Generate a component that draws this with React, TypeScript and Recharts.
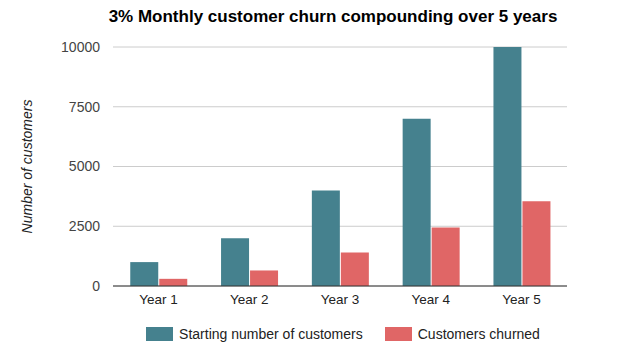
import { Bar, BarChart, CartesianGrid, Legend, XAxis, YAxis } from "recharts";

const YEARS = ["Year 1", "Year 2", "Year 3", "Year 4", "Year 5"];
const STARTING = [1000, 2000, 4000, 7000, 10000];
const CHURNED = [300, 650, 1400, 2450, 3550];
const Y_TICKS = [0, 2500, 5000, 7500, 10000];

const TEAL = "#45818e";
const RED = "#e06666";
const FONT = "'Liberation Sans', Arial, sans-serif";

const data = YEARS.map((year, i) => ({
  year,
  starting: STARTING[i],
  churned: CHURNED[i],
}));

function ChartLegend() {
  const items = [
    { label: "Starting number of customers", color: TEAL },
    { label: "Customers churned", color: RED },
  ];
  return (
    <div
      style={{
        display: "flex",
        justifyContent: "center",
        alignItems: "center",
        height: 24,
        width: 640,
        boxSizing: "border-box",
        gap: 22,
        paddingLeft: 46,
      }}
    >
      {items.map((it) => (
        <div key={it.label} style={{ display: "flex", alignItems: "center", gap: 6 }}>
          <span style={{ width: 27, height: 14, background: it.color, display: "inline-block" }} />
          <span style={{ fontSize: 14, color: "#222", fontFamily: FONT }}>{it.label}</span>
        </div>
      ))}
    </div>
  );
}

export default function App() {
  return (
    <div style={{ position: "absolute", left: 0, top: 0, width: 640, height: 350, background: "#fff" }}>
      <div
        style={{
          position: "absolute",
          top: 7,
          left: 0,
          width: 666,
          textAlign: "center",
          fontFamily: FONT,
          fontWeight: 700,
          fontSize: 17,
          color: "#000",
        }}
      >
        3% Monthly customer churn compounding over 5 years
      </div>
      <BarChart
        width={640}
        height={350}
        data={data}
        margin={{ top: 47, right: 73, bottom: 4, left: 22 }}
        barCategoryGap="19%"
        barGap={1}
      >
        <CartesianGrid vertical={false} stroke="#cccccc" />
        <XAxis
          dataKey="year"
          height={36}
          tickLine={false}
          tickSize={0}
          tickMargin={8}
          axisLine={{ stroke: "#333" }}
          tick={{ fontSize: 13.5, fill: "#222", fontFamily: FONT }}
        />
        <YAxis
          width={91}
          domain={[0, 10000]}
          ticks={Y_TICKS}
          axisLine={false}
          tickLine={false}
          tickSize={0}
          tickMargin={13}
          tick={{ fontSize: 14, fill: "#444", fontFamily: FONT }}
          label={{
            value: "Number of customers",
            angle: -90,
            position: "insideLeft",
            style: { textAnchor: "middle", fontStyle: "italic", fontSize: 14, fill: "#222", fontFamily: FONT },
          }}
        />
        <Legend
          verticalAlign="bottom"
          height={24}
          wrapperStyle={{ left: 0, width: 640 }}
          content={() => <ChartLegend />}
        />
        <Bar dataKey="starting" name="Starting number of customers" fill={TEAL} isAnimationActive={false} />
        <Bar dataKey="churned" name="Customers churned" fill={RED} isAnimationActive={false} />
      </BarChart>
    </div>
  );
}
